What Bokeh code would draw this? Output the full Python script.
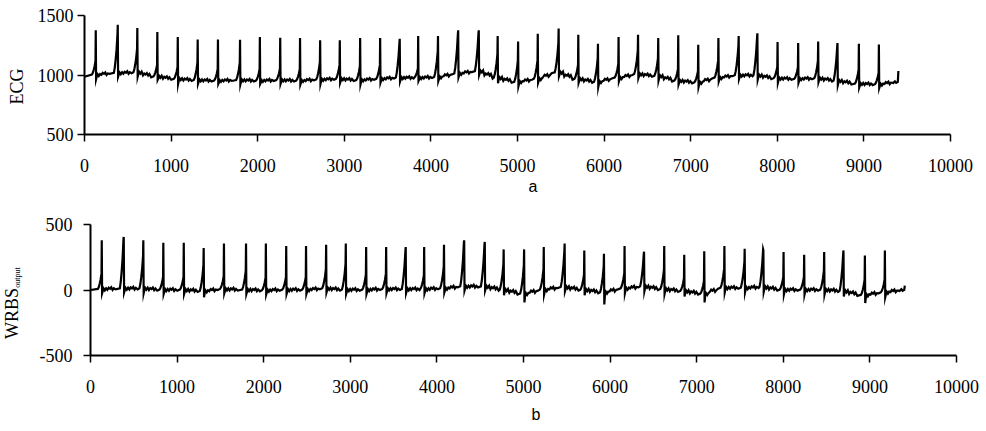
import numpy as np
from bokeh.plotting import figure
from bokeh.models import Range1d, FixedTicker, Title
from bokeh.layouts import column, row
from bokeh.core.properties import value
from bokeh.embed import file_html
from bokeh.resources import INLINE

# ---- data ----
beat_x = [130, 384, 610, 841, 1077, 1307, 1541, 1796, 2025, 2260, 2489, 2721, 2948, 3183,
          3414, 3640, 3853, 4082, 4315, 4553, 4771, 5007, 5234, 5475, 5702, 5929, 6167, 6392,
          6625, 6856, 7087, 7320, 7554, 7770, 8003, 8241, 8472, 8695, 8942, 9173]

ecg_peak = [1375, 1423, 1395, 1362, 1319, 1299, 1299, 1296, 1319, 1313, 1311, 1291, 1291, 1311,
            1311, 1305, 1328, 1328, 1375, 1375, 1328, 1282, 1347, 1390, 1339, 1263, 1319, 1339,
            1311, 1333, 1254, 1311, 1328, 1350, 1277, 1268, 1282, 1268, 1263, 1257]
ecg_base = [1000, 1015, 1020, 985, 965, 955, 950, 955, 950, 955, 950, 960, 965, 955,
            965, 975, 975, 980, 1010, 1030, 975, 940, 965, 1020, 965, 940, 975, 1005,
            990, 950, 935, 975, 995, 995, 970, 965, 970, 950, 925, 920]
ecg_trough = [965, 985, 985, 960, 925, 925, 925, 920, 925, 925, 920, 925, 935, 920,
              935, 945, 950, 950, 980, 1000, 930, 905, 935, 990, 935, 900, 945, 975,
              955, 920, 900, 945, 965, 960, 935, 935, 940, 915, 895, 890]
ecg_ramp = [120, 330, 200, 100, 100, 150, 100, 150, 100, 100, 100, 150, 120, 120,
            120, 300, 80, 220, 340, 330, 200, 180, 160, 250, 120, 200, 120, 200,
            150, 100, 100, 150, 250, 330, 100, 100, 150, 290, 120, 100]
ecg_start = 985
ecg_end = [9398, 940, 1034]   # last x, level before the end, last value

wrbs_peak = [379, 405, 379, 361, 361, 320, 354, 354, 354, 336, 336, 346, 354, 328,
             328, 328, 328, 346, 379, 367, 310, 310, 328, 354, 302, 277, 336, 292,
             336, 269, 295, 336, 315, 302, 290, 269, 290, 302, 264, 302]
wrbs_base = [5, 10, 10, 0, 0, -10, 5, 0, -5, 0, 0, 10, 0, 0,
             5, 5, 5, 10, 25, 25, 0, -30, 0, 20, 0, -20, 10, 25,
             5, -10, -30, 15, 15, 20, 0, 0, 0, -10, -40, -20]
wrbs_trough = [-25, -20, -25, -30, -30, -55, -25, -30, -35, -30, -30, -20, -30, -30,
               -25, -25, -25, -20, -5, -5, -40, -95, -35, -10, -40, -110, -25, -10,
               -30, -50, -95, -20, -20, -15, -35, -35, -35, -50, -100, -55]
wrbs_ramp = [120, 380, 250, 100, 100, 200, 100, 150, 100, 100, 100, 150, 200, 120,
             120, 300, 110, 170, 340, 330, 200, 220, 160, 280, 120, 200, 120, 250,
             150, 100, 100, 150, 200, 290, 100, 100, 150, 290, 120, 100]
wrbs_start = 0
wrbs_end = [9403, 0, 33]

x_ticks = list(range(0, 10001, 1000))
ecg_ticks = [500, 1000, 1500]
wrbs_ticks = [-500, 0, 500]

SERIF = "Liberation Serif"


def trace(start, base, peak, trough, ramp, end):
    xs = [0]
    ys = [start]
    n = len(beat_x)
    for i, t in enumerate(beat_x):
        b = base[i]
        nb = base[i + 1] if i + 1 < n else end[1]
        r = ramp[i]
        m = (b + nb) / 2
        xs += [t - 45, t - 34, t - 24, t - 14, t - 7, t - 3, t, t + 4, t + 12, t + 22, t + 35,
               t + 50, t + 65, t + 80, t + 95, t + 110, t + 125, t + 140, t + 160]
        ys += [b + 3, b + 0.15 * r, b + 0.35 * r, b + 0.6 * r, b + 0.85 * r, b + r, peak[i],
               trough[i], b - 12, b + 6, b - 8, b + 8, m - 6, m + 10, m + 2, m + 14, m - 7,
               m + 6, nb - 5]
    xs += [end[0] - 60, end[0] - 40, end[0] - 25, end[0] - 6, end[0]]
    ys += [end[1] - 8, end[1] + 6, end[1] - 6, end[1] + 2, end[2]]
    return xs, ys


def make_fig(width, height, top, bottom, right, yr, yticks):
    p = figure(width=width, height=height, output_backend="svg", toolbar_location=None,
               x_range=Range1d(0, 10000), y_range=Range1d(*yr),
               min_border_top=top, min_border_bottom=bottom,
               min_border_left=54, min_border_right=right)
    p.grid.visible = False
    p.outline_line_color = None
    p.background_fill_color = "white"
    p.border_fill_color = "white"
    for ax in (p.xaxis[0], p.yaxis[0]):
        ax.axis_line_width = 2
        ax.axis_line_color = "black"
        ax.major_tick_line_width = 1.5
        ax.major_tick_line_color = "black"
        ax.minor_tick_line_color = None
        ax.major_tick_in = 0
        ax.major_tick_out = 7
        ax.major_label_text_font = SERIF
        ax.major_label_text_font_size = "18px"
        ax.major_label_text_color = "black"
    p.xaxis.ticker = FixedTicker(ticks=x_ticks)
    p.yaxis.ticker = FixedTicker(ticks=yticks)
    p.yaxis.major_label_overrides = {t: str(t) for t in yticks}
    p.xaxis.major_label_standoff = 17
    return p


def label_fig(width, height, frame_top, frame_bottom):
    # y data = minus the page pixel row, so labels can be placed by page position
    f = figure(width=width, height=height, output_backend="svg", toolbar_location=None,
               x_range=Range1d(0, width), y_range=Range1d(-frame_bottom, -frame_top),
               x_axis_type=None, y_axis_type=None,
               min_border_left=0, min_border_right=0,
               min_border_top=0, min_border_bottom=0)
    f.grid.visible = False
    f.outline_line_color = None
    f.background_fill_color = "white"
    f.border_fill_color = "white"
    return f


# ---- panel a ----
H1 = 208
p1 = make_fig(954, H1, 15, H1 - 134, 34, (500, 1500), ecg_ticks)
p1.yaxis.major_label_standoff = 4
x1, y1 = trace(ecg_start, ecg_base, ecg_peak, ecg_trough, ecg_ramp, ecg_end)
p1.line(x1, y1, line_color="black", line_width=2.2, line_join="miter")
p1.add_layout(Title(text="a", align="left", offset=444, standoff=3,
                    text_font="Liberation Sans", text_font_size="16px",
                    text_font_style="normal", text_color="black"), "below")

l1 = label_fig(30, H1, 15, 134)
l1.text(x=[16], y=[-86], text=["ECG"], angle=np.pi / 2, text_align="center",
        text_baseline="middle", text_font=value(SERIF), text_font_size="18px",
        text_color="black")

# ---- panel b ----
H2 = 223
p2 = make_fig(948, H2, 224 - H1, H1 + H2 - 355, 28, (-500, 500), wrbs_ticks)
p2.yaxis.major_label_standoff = 11
x2, y2 = trace(wrbs_start, wrbs_base, wrbs_peak, wrbs_trough, wrbs_ramp, wrbs_end)
p2.line(x2, y2, line_color="black", line_width=2.2, line_join="miter")
p2.add_layout(Title(text="b", align="left", offset=441, standoff=16,
                    text_font="Liberation Sans", text_font_size="16px",
                    text_font_style="normal", text_color="black"), "below")

l2 = label_fig(36, H2, 224, 355)
l2.text(x=[11.5], y=[-313], text=["WRBS"], angle=np.pi / 2, text_align="center",
        text_baseline="middle", text_font=value(SERIF), text_font_size="18px",
        text_color="black")
l2.text(x=[16.5], y=[-277], text=["output"], angle=np.pi / 2, text_align="center",
        text_baseline="middle", text_font=value(SERIF), text_font_size="8px",
        text_color="black")

layout = column(row(l1, p1, spacing=0), row(l2, p2, spacing=0), spacing=0)
open("out.html", "w").write(file_html(layout, INLINE))
